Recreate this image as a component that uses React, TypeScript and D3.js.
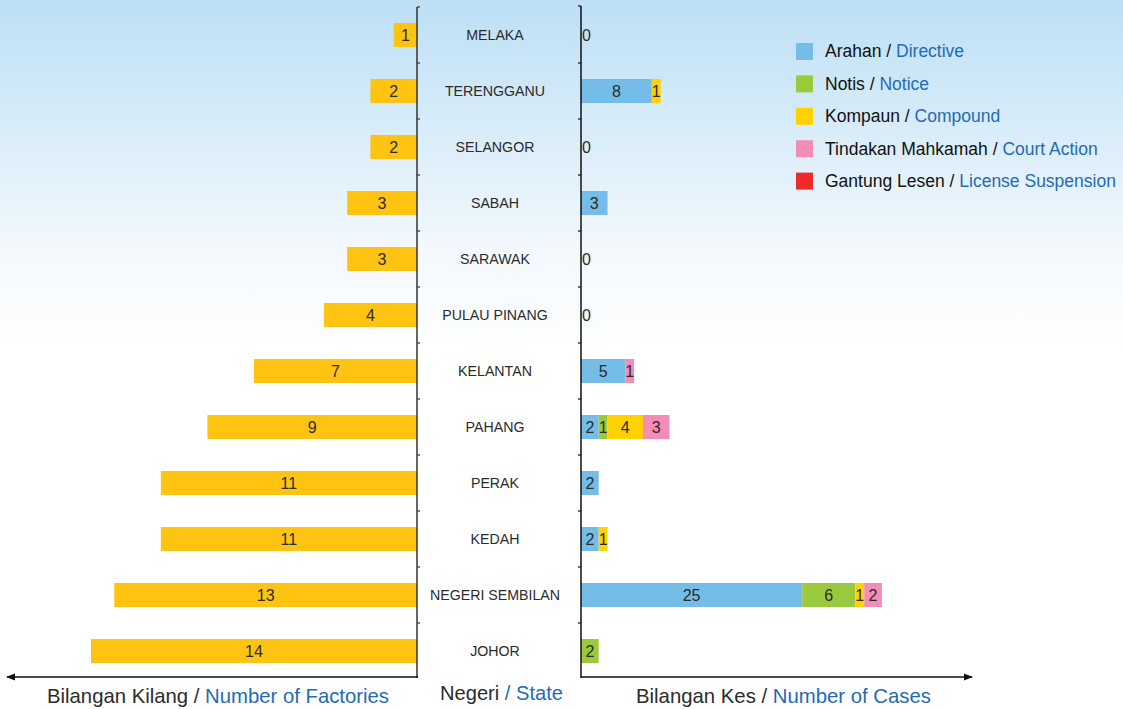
import React from "react";
import * as d3 from "d3";

// States, top to bottom
const states = [
  "MELAKA", "TERENGGANU", "SELANGOR", "SABAH", "SARAWAK", "PULAU PINANG",
  "KELANTAN", "PAHANG", "PERAK", "KEDAH", "NEGERI SEMBILAN", "JOHOR",
];

// Number of factories per state
const factories = [1, 2, 2, 3, 3, 4, 7, 9, 11, 11, 13, 14];

// Number of enforcement cases per state, by action type
const directive = [0, 8, 0, 3, 0, 0, 5, 2, 2, 2, 25, 0];
const notice = [0, 0, 0, 0, 0, 0, 0, 1, 0, 0, 6, 2];
const compound = [0, 1, 0, 0, 0, 0, 0, 4, 0, 1, 1, 0];
const courtAction = [0, 0, 0, 0, 0, 0, 1, 3, 0, 0, 2, 0];
const licenseSuspension = [0, 0, 0, 0, 0, 0, 0, 0, 0, 0, 0, 0];

const caseSeries = [
  { key: "directive", ms: "Arahan", en: "Directive", color: "#74BDE8", values: directive },
  { key: "notice", ms: "Notis", en: "Notice", color: "#9BC93D", values: notice },
  { key: "compound", ms: "Kompaun", en: "Compound", color: "#FFD200", values: compound },
  { key: "court", ms: "Tindakan Mahkamah", en: "Court Action", color: "#F48CB8", values: courtAction },
  { key: "license", ms: "Gantung Lesen", en: "License Suspension", color: "#EE2A2A", values: licenseSuspension },
];

const W = 1123;
const H = 709;
const FONT = "'Liberation Sans', Arial, sans-serif";
const BLUE = "#1F6BB5";
const TEXT = "#2b2b2b";

export default function App() {
  const leftAxisX = 417;
  const rightAxisX = 581;

  const yStep = d3.scaleBand<string>().domain(states).range([7, 679]);

  const xF = d3.scaleLinear().domain([0, 14]).range([leftAxisX, 91]);
  const xC = d3.scaleLinear().domain([0, 10]).range([rightAxisX, rightAxisX + 88.5]);

  const rows = states.map((s, i) => {
    let acc = 0;
    const segs = caseSeries.map((ser) => {
      const v = ser.values[i];
      const seg = { ...ser, v, x0: acc, x1: acc + v };
      acc += v;
      return seg;
    });
    return { s, i, segs, total: acc };
  });

  const bh = 24;
  const cy = (s: string) => (yStep(s) as number) + yStep.bandwidth() / 2;
  const boundaries = states.slice(1).map((s) => yStep(s) as number);
  const axisBottom = 678;
  const baseY = 677;

  return (
    <svg width={W} height={H} style={{ position: "absolute", left: 0, top: 0, display: "block" }} fontFamily={FONT}>
      <defs>
        <linearGradient id="bg" x1="0" y1="0" x2="0" y2="1" gradientUnits="objectBoundingBox">
          <stop offset="0" stopColor="#BCDFF5" />
          <stop offset="0.36" stopColor="#F4F9FD" />
          <stop offset="0.5" stopColor="#FFFFFF" />
          <stop offset="1" stopColor="#FFFFFF" />
        </linearGradient>
        <marker id="arrow" viewBox="0 0 10 10" refX="9" refY="5" markerWidth="9" markerHeight="9" markerUnits="userSpaceOnUse" orient="auto-start-reverse">
          <path d="M0,1 L10,5 L0,9 Z" fill="#111" />
        </marker>
      </defs>
      <rect x={0} y={0} width={W} height={H} fill="url(#bg)" />

      {/* factory bars (left) */}
      {states.map((s, i) => {
        const c = cy(s);
        const x0 = xF(factories[i]);
        return (
          <g key={s}>
            <rect x={x0} y={c - bh / 2} width={leftAxisX - x0} height={bh} fill="#FFC312" />
            <text x={(x0 + leftAxisX) / 2} y={c} dy="0.36em" textAnchor="middle" fontSize={16} fill={TEXT}>
              {factories[i]}
            </text>
          </g>
        );
      })}

      {/* case bars (right) */}
      {rows.map((r) => {
        const c = cy(r.s);
        if (r.total === 0) {
          return (
            <text key={r.s} x={rightAxisX + 1} y={c} dy="0.36em" fontSize={16} fill={TEXT}>0</text>
          );
        }
        return (
          <g key={r.s}>
            {r.segs.filter((g) => g.v > 0).map((g) => (
              <g key={g.key}>
                <rect x={xC(g.x0)} y={c - bh / 2} width={xC(g.x1) - xC(g.x0)} height={bh} fill={g.color} />
                <text x={(xC(g.x0) + xC(g.x1)) / 2} y={c} dy="0.36em" textAnchor="middle" fontSize={16} fill={TEXT}>
                  {g.v}
                </text>
              </g>
            ))}
          </g>
        );
      })}

      {/* state names */}
      {states.map((s) => (
        <text key={s} x={495} y={cy(s)} dy="0.36em" textAnchor="middle" fontSize={14.2} fill={TEXT}>
          {s}
        </text>
      ))}

      {/* vertical axes */}
      <line x1={leftAxisX} x2={leftAxisX} y1={7} y2={axisBottom} stroke="#333" strokeWidth={1.5} />
      <line x1={rightAxisX} x2={rightAxisX} y1={6} y2={axisBottom} stroke="#111" strokeWidth={1.5} />
      {boundaries.map((b, i) => (
        <g key={i}>
          <line x1={leftAxisX} x2={leftAxisX + 3} y1={b} y2={b} stroke="#333" strokeWidth={1.2} />
          <line x1={rightAxisX - 3} x2={rightAxisX} y1={b} y2={b} stroke="#111" strokeWidth={1.2} />
        </g>
      ))}
      <line x1={leftAxisX} x2={leftAxisX + 3} y1={7} y2={7} stroke="#333" strokeWidth={1.2} />
      <line x1={rightAxisX - 3} x2={rightAxisX} y1={6} y2={6} stroke="#111" strokeWidth={1.2} />

      {/* bottom arrows */}
      <line x1={leftAxisX + 1} x2={7} y1={baseY} y2={baseY} stroke="#111" strokeWidth={1.5} markerEnd="url(#arrow)" />
      <line x1={rightAxisX} x2={972} y1={baseY} y2={baseY} stroke="#111" strokeWidth={1.5} markerEnd="url(#arrow)" />

      {/* bottom titles */}
      <text x={47} y={703} fontSize={21} fill={TEXT} textLength={342} lengthAdjust="spacingAndGlyphs">
        Bilangan Kilang / <tspan fill={BLUE}>Number of Factories</tspan>
      </text>
      <text x={440} y={700} fontSize={20.5} fill={TEXT} textLength={123} lengthAdjust="spacingAndGlyphs">
        Negeri <tspan fill={BLUE}>/ State</tspan>
      </text>
      <text x={636} y={703} fontSize={21} fill={TEXT} textLength={295} lengthAdjust="spacingAndGlyphs">
        Bilangan Kes / <tspan fill={BLUE}>Number of Cases</tspan>
      </text>

      {/* legend */}
      {caseSeries.map((ser, i) => {
        const ly = 51 + i * 32.4;
        return (
          <g key={ser.key}>
            <rect x={796} y={ly - 8} width={17} height={17} fill={ser.color} />
            <text x={825} y={ly} dy="0.36em" fontSize={17.5} fill="#111">
              {ser.ms} / <tspan fill={BLUE}>{ser.en}</tspan>
            </text>
          </g>
        );
      })}
    </svg>
  );
}
